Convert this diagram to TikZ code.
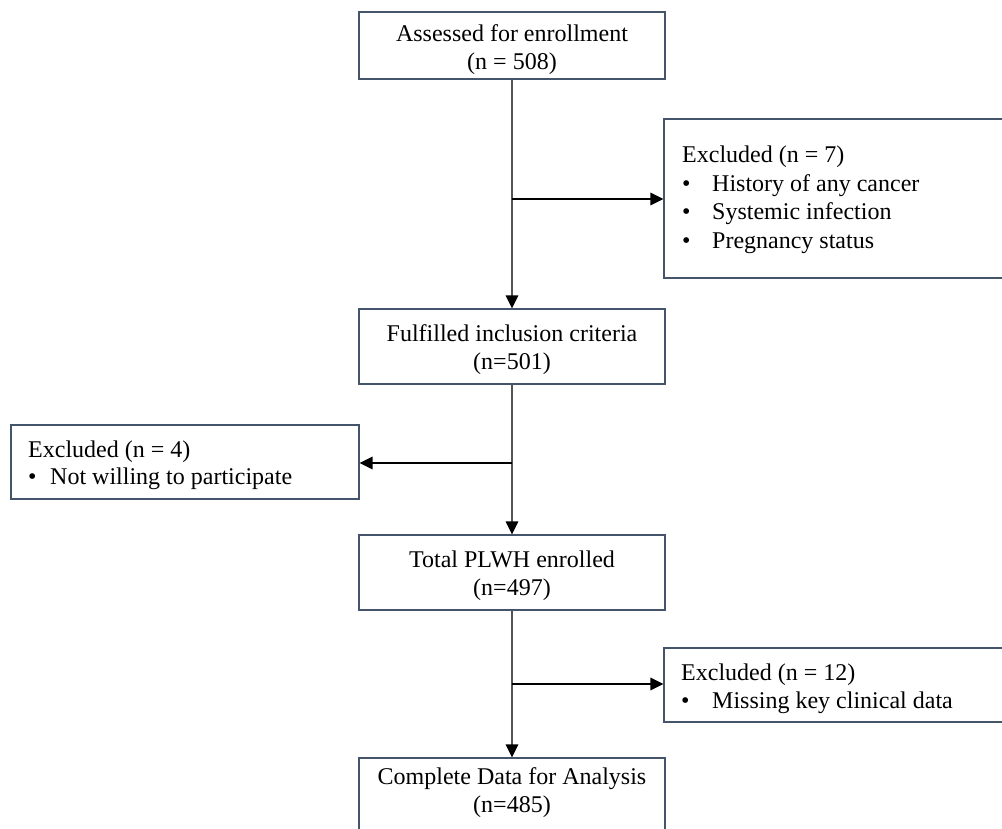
\documentclass[tikz,border=0pt]{standalone}
\usepackage{fontspec}
\setmainfont{Liberation Serif}
\usetikzlibrary{arrows.meta}
\definecolor{boxcol}{RGB}{68,84,106}
\definecolor{vcol}{RGB}{85,85,85}
\tikzset{
  box/.style={draw=boxcol, line width=1.2pt, fill=white, inner sep=0pt, rectangle},
  txt/.style={inner sep=0pt, font=\fontsize{24pt}{28pt}\selectfont},
  tip/.style={-{Triangle[length=13pt,width=12.5pt,color=black]}},
  vline/.style={draw=vcol, line width=1.4pt, tip},
  hline/.style={draw=black, line width=1.4pt, tip},
}
\newcommand{\bul}[1]{\makebox[#1][l]{•}}
\begin{document}
\begin{tikzpicture}[x=1pt, y=-1pt]
\useasboundingbox (0,0) rectangle (1002,829);
\fill[white] (0,0) rectangle (1002,829);

% main column boxes
\node[box, minimum width=306pt, minimum height=67pt] (b1) at (512,45.5) {};
\node[box, minimum width=306pt, minimum height=75pt] (b3) at (512,346.5) {};
\node[box, minimum width=306pt, minimum height=75pt] (b5) at (512,572.5) {};
\node[box, minimum width=306pt, minimum height=75pt] (b7) at (512,795.5) {};

% exclusion boxes
\node[box, minimum width=348pt, minimum height=159pt] (e1) at (838,198.5) {};
\node[box, minimum width=348pt, minimum height=74pt] (e2) at (185,462) {};
\node[box, minimum width=348pt, minimum height=74pt] (e3) at (838,685) {};

% texts of main boxes
\node[txt, anchor=base] (b1a) at (512,42) {Assessed for enrollment};
\node[txt, anchor=base] (b1b) at (512,69.5) {(n = 508)};
\node[txt, anchor=base] (b3a) at (512,341.5) {Fulfilled inclusion criteria};
\node[txt, anchor=base] (b3b) at (512,369) {(n=501)};
\node[txt, anchor=base] (b5a) at (512,567) {Total PLWH enrolled};
\node[txt, anchor=base] (b5b) at (512,595) {(n=497)};
\node[txt, anchor=base] (b7a) at (512,784) {Complete Data for Analysis};
\node[txt, anchor=base] (b7b) at (512,812) {(n=485)};

% texts of exclusion boxes
\node[txt, anchor=base west] (e1a) at (682,163) {Excluded (n = 7)};
\node[txt, anchor=base west] (e1b) at (682,191.5) {\bul{30pt}History of any cancer};
\node[txt, anchor=base west] (e1c) at (682,220) {\bul{30pt}Systemic infection};
\node[txt, anchor=base west] (e1d) at (682,248.5) {\bul{30pt}Pregnancy status};

\node[txt, anchor=base west] (e2a) at (28,457) {Excluded (n = 4)};
\node[txt, anchor=base west] (e2b) at (28,484) {\bul{22pt}Not willing to participate};

\node[txt, anchor=base west] (e3a) at (681,680) {Excluded (n = 12)};
\node[txt, anchor=base west] (e3b) at (681,708) {\bul{31pt}Missing key clinical data};

% junctions
\coordinate (j1) at (512,199);
\coordinate (j2) at (512,463);
\coordinate (j3) at (512,684);

% connectors
\draw[vline] (b1.south) -- (b3.north);
\draw[vline] (b3.south) -- (b5.north);
\draw[vline] (b5.south) -- (b7.north);
\draw[hline] (j1) -- (j1 -| e1.west);
\draw[hline] (j2) -- (j2 -| e2.east);
\draw[hline] (j3) -- (j3 -| e3.west);
\end{tikzpicture}
\end{document}
